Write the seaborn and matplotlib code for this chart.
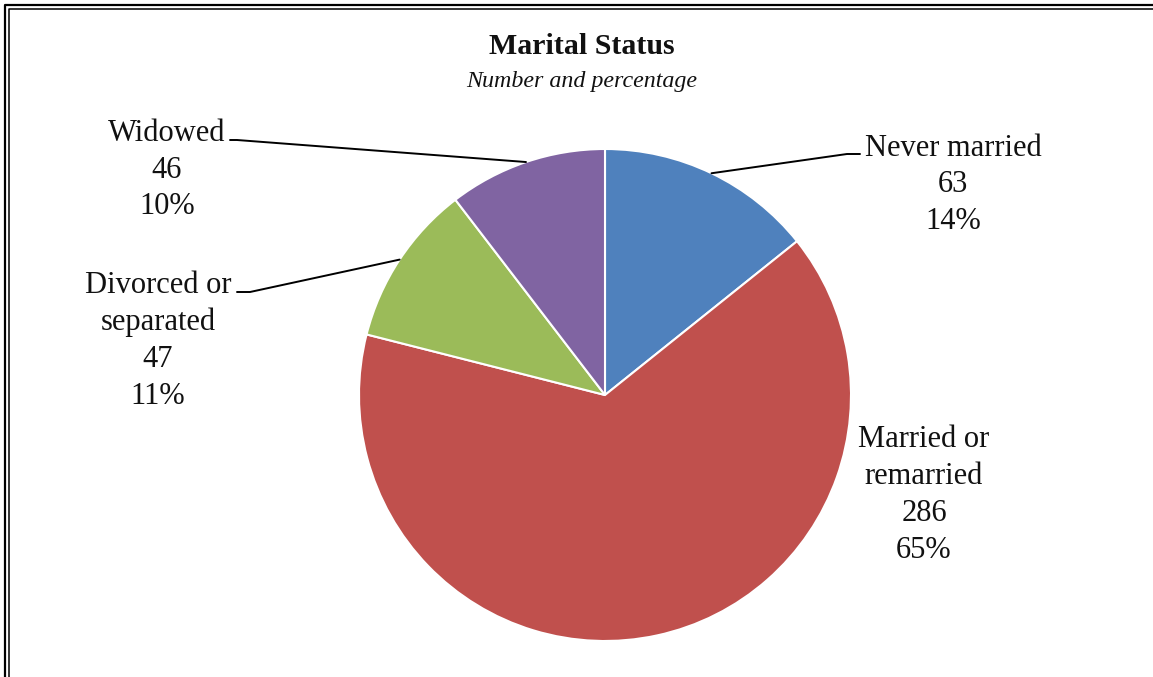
import matplotlib
matplotlib.use("Agg")
import matplotlib.pyplot as plt
from matplotlib.lines import Line2D
import seaborn as sns
import numpy as np

# ---- data ----
categories = ["Never married", "Married or\nremarried", "Divorced or\nseparated", "Widowed"]
counts = [63, 286, 47, 46]
colors_hex = ["#4F81BD", "#C0504D", "#9BBB59", "#8064A2"]
title = "Marital Status"
subtitle = "Number and percentage"

# ---- style ----
sns.set_theme(style="white")
plt.rcParams['font.family'] = ['Liberation Serif', 'DejaVu Serif']
palette = sns.color_palette(colors_hex)

W, H = 1153, 677
fig = plt.figure(figsize=(W / 100, H / 100), dpi=100)
fig.patch.set_facecolor("white")
ax = fig.add_axes([0, 0, 1, 1])


def py(y):
    return H - y


cx, cy, r = 605, py(395), 246
wedges, _ = ax.pie(counts, colors=palette, startangle=90, counterclock=False,
                   center=(cx, cy), radius=r, frame=True,
                   wedgeprops=dict(edgecolor="white", linewidth=1.5))
ax.set_xlim(0, W)
ax.set_ylim(0, H)
ax.set_aspect("equal")
ax.axis("off")

total = sum(counts)
label_pos = [(953, 185), (924, 495), (158, 341), (167, 170)]
leaders = [[(847, 154), (860, 154)], None, [(250, 292), (237, 292)], [(237, 140), (230, 140)]]

for w, cat, n, (lx, ly), ld in zip(wedges, categories, counts, label_pos, leaders):
    pct = round(100 * n / total)
    ax.text(lx, py(ly), f"{cat}\n{n}\n{pct}%", ha="center", va="center",
            multialignment="center", fontsize=22, color="#111111", linespacing=1.36)
    if ld is not None:
        ang = np.deg2rad((w.theta1 + w.theta2) / 2)
        sx, sy = cx + r * np.cos(ang), cy + r * np.sin(ang)
        xs = [sx] + [p[0] for p in ld]
        ys = [sy] + [py(p[1]) for p in ld]
        ax.plot(xs, ys, color="black", lw=1.4, solid_joinstyle="miter")

ax.text(582, py(47), title, ha="center", va="center", fontsize=21.5,
        fontweight="bold", color="#111111")
ax.text(582, py(81), subtitle, ha="center", va="center", fontsize=17.3,
        style="italic", color="#111111")

# double frame (left and top visible)
fig.add_artist(Line2D([5 / W, 5 / W, 1.01], [-0.01, 1 - 5 / H, 1 - 5 / H],
                      transform=fig.transFigure, color="black", lw=1.6))
fig.add_artist(Line2D([8.5 / W, 8.5 / W, 1.01], [-0.01, 1 - 8.5 / H, 1 - 8.5 / H],
                      transform=fig.transFigure, color="black", lw=1.1))

fig.savefig("out.png", dpi=100)
